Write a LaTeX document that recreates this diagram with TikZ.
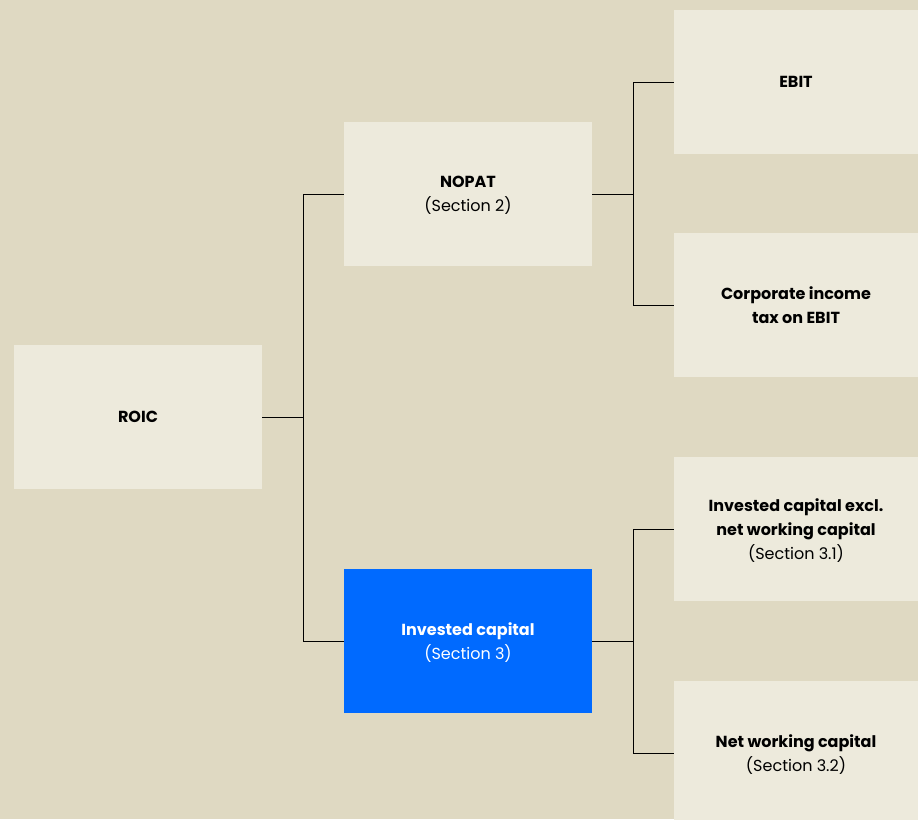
\documentclass[tikz,border=0pt]{standalone}
\usepackage{fontspec}
\setmainfont{Poppins}
\definecolor{sand}{HTML}{DFD9C2}
\definecolor{paper}{HTML}{EDEADC}
\definecolor{accent}{HTML}{006AFF}
\tikzset{
  box/.style={fill=paper,minimum width=248pt,minimum height=144pt,inner sep=0pt,
    align=center,font=\fontsize{16}{24}\selectfont,text=black,text depth=-6pt},
  hbox/.style={box,fill=accent,text=white},
  link/.style={line width=1pt,black}
}
\begin{document}
\begin{tikzpicture}[x=1pt,y=-1pt]
\fill[sand] (0,0) rectangle (918,819);
\useasboundingbox (0,0) rectangle (918,819);
\node[box] (roic) at (138,417) {\textbf{ROIC}};
\node[box] (nopat) at (468,194) {\textbf{NOPAT}\\(Section 2)};
\node[hbox] (invcap) at (468,641) {\textbf{Invested capital}\\(Section 3)};
\node[box,minimum width=244pt] (ebit) at (796,82) {\textbf{EBIT}};
\node[box,minimum width=244pt] (tax) at (796,305) {\textbf{Corporate income}\\\textbf{tax on EBIT}};
\node[box,minimum width=244pt] (icexcl) at (796,529) {\textbf{Invested capital excl.}\\\textbf{net working capital}\\(Section 3.1)};
\node[box,minimum width=244pt] (nwc) at (796,753) {\textbf{Net working capital}\\(Section 3.2)};
% tree connectors
\draw[link] (roic.east) -- ++(41,0) coordinate (j1);
\draw[link] (nopat.west) -| (j1) |- (invcap.west);
\draw[link] (nopat.east) -- ++(41,0) coordinate (j2);
\draw[link] (ebit.west) -| (j2) |- (tax.west);
\draw[link] (invcap.east) -- ++(41,0) coordinate (j3);
\draw[link] (icexcl.west) -| (j3) |- (nwc.west);
\end{tikzpicture}
\end{document}
